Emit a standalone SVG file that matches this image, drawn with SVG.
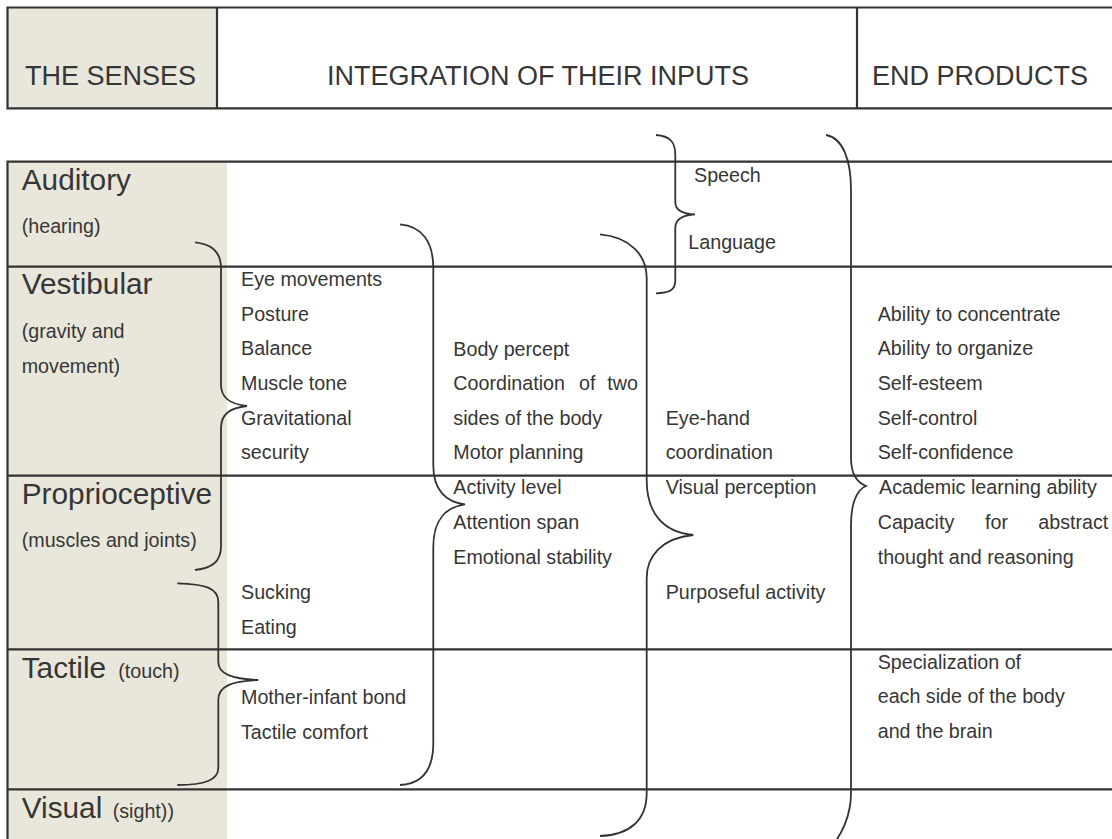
<svg xmlns="http://www.w3.org/2000/svg" width="1112" height="839" viewBox="0 0 1112 839">
<style>
text{font-family:"Liberation Sans",Arial,sans-serif;fill:#363636}
.h{font-size:27px}
.b{font-size:29.8px}
.s{font-size:19.7px}
.ln{stroke:#333;stroke-width:2.2;fill:none}
.br{stroke:#333;stroke-width:1.8;fill:none}
.shade{fill:#E9E7DB}
</style>
<rect width="1112" height="839" fill="#fff"/>
<g id="header">
<rect class="shade" x="7.5" y="7.5" width="209.5" height="101"/>
<path class="ln" d="M1112,7.5H7.5V108.3H1112M217,7.5V108.3M857,7.5V108.3"/>
<text class="h" x="25" y="85">THE SENSES</text>
<text class="h" x="327" y="85">INTEGRATION OF THEIR INPUTS</text>
<text class="h" x="872" y="85">END PRODUCTS</text>
</g>
<g id="table">
<rect class="shade" x="7.5" y="161.7" width="219.5" height="678"/>
<path class="ln" d="M1112,161.7H7.5V839M7.5,266.7H1112M7.5,475.7H1112M7.5,649.3H1112M7.5,789.3H1112"/>
</g>
<g id="auditory"><text class="b" x="21.7" y="190">Auditory</text><text class="s" x="21.7" y="233">(hearing)</text></g>
<g id="vestibular"><text class="b" x="21.7" y="294.3">Vestibular</text><text class="s" x="21.7" y="338">(gravity and</text><text class="s" x="21.7" y="372.7">movement)</text></g>
<g id="proprioceptive"><text class="b" x="21.7" y="504.3">Proprioceptive</text><text class="s" x="21.7" y="547.3">(muscles and joints)</text></g>
<g id="tactile"><text class="b" x="21.7" y="678.3">Tactile</text><text class="s" x="118.3" y="678.3">(touch)</text></g>
<g id="visual"><text class="b" x="21.7" y="818.3">Visual</text><text class="s" x="112.7" y="818.3">(sight))</text></g>
<g id="vestibular-products">
<text class="s" x="241" y="286">Eye movements</text>
<text class="s" x="241" y="320.7">Posture</text>
<text class="s" x="241" y="355.3">Balance</text>
<text class="s" x="241" y="390">Muscle tone</text>
<text class="s" x="241" y="425">Gravitational</text>
<text class="s" x="241" y="459.3">security</text>
</g>
<g id="oral-products">
<text class="s" x="241" y="599">Sucking</text>
<text class="s" x="241" y="633.5">Eating</text>
</g>
<g id="tactile-products">
<text class="s" x="241" y="704.3">Mother-infant bond</text>
<text class="s" x="241" y="738.5">Tactile comfort</text>
</g>
<g id="body-products">
<text class="s" x="453.3" y="355.5">Body percept</text>
<text class="s" y="390"><tspan x="453.3">Coordination</tspan><tspan x="579">of</tspan><tspan x="607.3">two</tspan></text>
<text class="s" x="453.3" y="425">sides of the body</text>
<text class="s" x="453.3" y="459.3">Motor planning</text>
</g>
<g id="attention-products">
<text class="s" x="453.3" y="494.3">Activity level</text>
<text class="s" x="453.3" y="529.3">Attention span</text>
<text class="s" x="453.3" y="564">Emotional stability</text>
</g>
<g id="speech">
<text class="s" x="694" y="181.7">Speech</text>
<text class="s" x="688.3" y="249.3">Language</text>
</g>
<g id="visual-products">
<text class="s" x="665.7" y="425">Eye-hand</text>
<text class="s" x="665.7" y="459.3">coordination</text>
<text class="s" x="665.7" y="494.3">Visual perception</text>
<text class="s" x="665.7" y="598.5">Purposeful activity</text>
</g>
<g id="end-products-1">
<text class="s" x="877.7" y="320.7">Ability to concentrate</text>
<text class="s" x="877.7" y="355.3">Ability to organize</text>
<text class="s" x="877.7" y="390">Self-esteem</text>
<text class="s" x="877.7" y="425">Self-control</text>
<text class="s" x="877.7" y="459.3">Self-confidence</text>
</g>
<g id="end-products-2">
<text class="s" x="879" y="494.3">Academic learning ability</text>
<text class="s" y="529.3"><tspan x="877.7">Capacity</tspan><tspan x="985">for</tspan><tspan x="1038.3">abstract</tspan></text>
<text class="s" x="877.7" y="564">thought and reasoning</text>
</g>
<g id="end-products-3">
<text class="s" x="877.7" y="669">Specialization of</text>
<text class="s" x="877.7" y="703.3">each side of the body</text>
<text class="s" x="877.7" y="738.3">and the brain</text>
</g>
<g id="connectors">
<path class="br" d="M195,242.3C212,244 221,252 221,268L221,385C221,398 230,404 247,406C230,408 221,414 221,428L221,546C221,562 212,568 195,570"/>
<path class="br" d="M177.3,583.3C205,584 218.3,588 218.3,602L218.3,662C218.3,674 232,679 258.3,680C232,681 218.3,686 218.3,700L218.3,768C218.3,780 205,785 177.3,785"/>
<path class="br" d="M400,224.3C422,226 433.3,242 433.3,268L433.3,466C433.3,490 446,502 465,504.3C446,507 433.3,520 433.3,546.7L433.3,743C433.3,770 422,784 400,785"/>
<path class="br" d="M600,234.3C630,237 646.7,255 646.7,278L646.7,480C646.7,512 662,532 693.3,535C662,538 646.7,556 646.7,578L646.7,793C646.7,820 630,835 600,836"/>
<path class="br" d="M656,135C670,136 675.3,142 675.3,155L675.3,202C675.3,210 682,214 695,214.3C682,215 675.3,219 675.3,228L675.3,280C675.3,290 670,293 656,293.3"/>
<path class="br" d="M826,135C843,138 851,160 851,190L851,458C851,473 856,482 866,486C856,490 851,505 851,525L851,793C851,815 842,835 830,848"/>
</g>
</svg>
